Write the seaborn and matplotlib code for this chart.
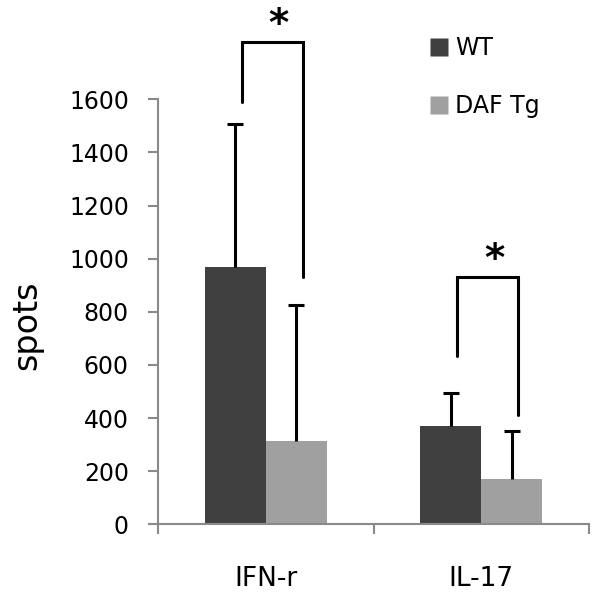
import seaborn as sns
import matplotlib.pyplot as plt
from matplotlib.lines import Line2D
import pandas as pd

# Values
cytokines = ['IFN-r', 'IL-17']
groups = ['WT', 'DAF Tg']
wt_spots = [970, 370]
daf_spots = [313, 170]
wt_err = [537, 126]
daf_err = [512, 180]

# significance brackets: (top, left foot, right foot) in data units
bracket_top = [1815, 932]
bracket_left = [1590, 634]
bracket_right = [930, 411]

df = pd.DataFrame({
    'cytokine': cytokines * 2,
    'group': [groups[0]] * 2 + [groups[1]] * 2,
    'spots': wt_spots + daf_spots,
    'err': wt_err + daf_err,
})

sns.set_style("white")
plt.rcParams['font.family'] = ['DejaVu Sans']
plt.rcParams['text.color'] = 'black'
plt.rcParams['xtick.labelcolor'] = 'black'
plt.rcParams['ytick.labelcolor'] = 'black'

colors = ['#404040', '#a0a0a0']
axis_grey = '#8a8a8a'

fig = plt.figure(figsize=(6, 5.96), dpi=100)
ax = fig.add_axes([0.2633, 0.1203, 0.7184, 0.7131])

sns.barplot(data=df, x='cytokine', y='spots', hue='group', hue_order=groups,
            palette=colors, width=0.566, errorbar=None, saturation=1,
            linewidth=0, legend=False, ax=ax)

# upper-only error bars at the bar centres
for patch, (_, row) in zip(ax.patches, df.iterrows()):
    xc = patch.get_x() + patch.get_width() / 2
    _, caps, _ = ax.errorbar(xc, row['spots'], yerr=[[0], [row['err']]], fmt='none',
                             ecolor='black', elinewidth=2.2, capsize=6, capthick=2.2)
    caps[0].set_visible(False)

# significance brackets
bw = 0.566 / 2
for i in range(len(cytokines)):
    xl = i - bw / 2 + 0.03
    xr = i + bw / 2 + 0.03
    ax.plot([xl, xl, xr, xr],
            [bracket_left[i], bracket_top[i], bracket_top[i], bracket_right[i]],
            color='black', lw=2.2, clip_on=False, solid_joinstyle='miter')
    ax.text((xl + xr) / 2 + 0.03, bracket_top[i] + 22, '*', ha='center', va='baseline',
            fontsize=28, fontweight='bold', color='black', clip_on=False)

ax.set_ylim(0, 1600)
ax.set_xlim(-0.5, 1.5)
ax.set_yticks(range(0, 1601, 200))
ax.set_xticks([0, 1])
ax.set_xticklabels(cytokines)
ax.set_xticks([-0.5, 0.5, 1.5], minor=True)
ax.set_xlabel('')
ax.set_ylabel('')

for s in ['top', 'right']:
    ax.spines[s].set_visible(False)
for s in ['left', 'bottom']:
    ax.spines[s].set_color(axis_grey)
    ax.spines[s].set_linewidth(1.5)

ax.tick_params(axis='y', which='major', direction='out', length=7, width=1.5,
               color=axis_grey, labelsize=17, pad=14, left=True, labelcolor='black')
ax.tick_params(axis='x', which='major', length=0, labelsize=19, pad=30,
               labelcolor='black')
ax.tick_params(axis='x', which='minor', direction='out', length=7, width=1.5,
               color=axis_grey, bottom=True)

fig.text(0.045, 0.455, 'spots', rotation=90, ha='center', va='center',
         fontsize=24, color='black')

handles = [Line2D([0], [0], marker='s', color='none', markerfacecolor=c,
                  markeredgecolor='none', markersize=13) for c in colors]
leg = ax.legend(handles, groups, loc='upper left', bbox_to_anchor=(0.68, 0.975),
                bbox_transform=fig.transFigure, frameon=False, fontsize=17,
                handlelength=0.8, handletextpad=0.3, labelspacing=1.45)
for t in leg.get_texts():
    t.set_color('black')

plt.savefig('out.png', dpi=100, facecolor='white')
